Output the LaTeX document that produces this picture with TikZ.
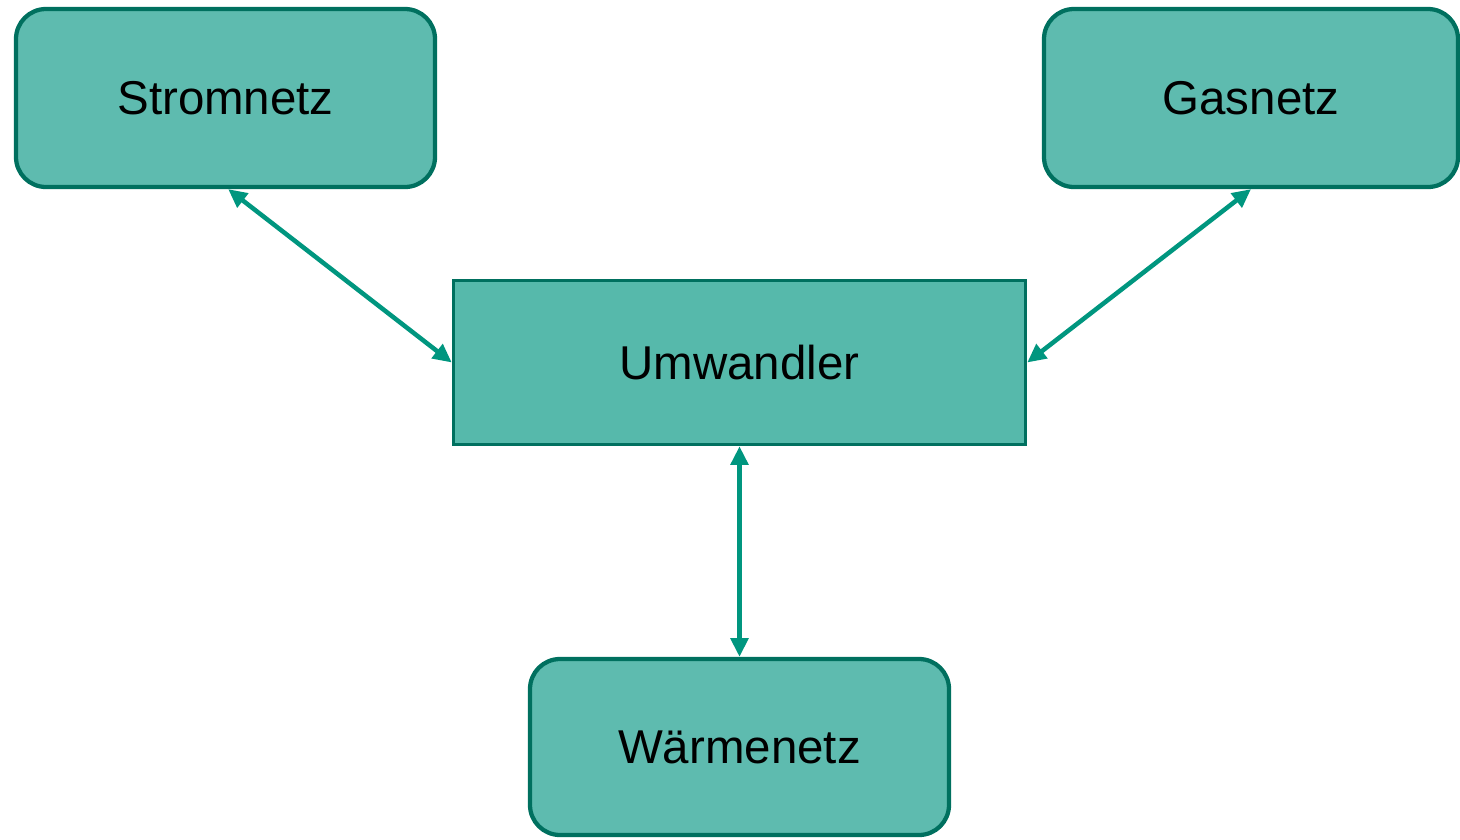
\documentclass[tikz,border=0pt]{standalone}
\usepackage{fontspec}
\setmainfont{Liberation Sans}
\usetikzlibrary{arrows.meta}
\definecolor{boxfill}{HTML}{5EBBAF}
\definecolor{mainfill}{HTML}{56B9AB}
\definecolor{boxdraw}{HTML}{00705F}
\definecolor{arrowcol}{HTML}{00967F}
\begin{document}
\begin{tikzpicture}[x=0.75pt,y=-0.75pt,
  netbox/.style={draw=boxdraw,fill=boxfill,line width=3.2pt,rounded corners=22.5pt,
    minimum height=133.5pt,inner sep=0pt,font=\fontsize{35.6}{40}\selectfont},
  convbox/.style={draw=boxdraw,fill=mainfill,line width=2.6pt,
    minimum width=429pt,minimum height=123pt,inner sep=0pt,font=\fontsize{35.6}{40}\selectfont},
  link/.style={draw=arrowcol,line width=3.4pt,{Triangle[length=14pt,width=13pt]}-{Triangle[length=14pt,width=13pt]}}]
\useasboundingbox (0,0) rectangle (1460,839);
\node[netbox,minimum width=314.25pt] (S) at (225.5,98) {Stromnetz};
\node[netbox,minimum width=310.5pt] (G) at (1251,98) {Gasnetz};
\node[convbox] (U) at (739.5,362.5) {Umwandler};
\node[netbox,minimum width=314.25pt,minimum height=132pt] (W) at (739.5,747) {Wärmenetz};
\draw[link] ([xshift=2pt]S.south) -- (U.west);
\draw[link] (G.south) -- (U.east);
\draw[link] (U.south) -- (W.north);
\end{tikzpicture}
\end{document}
